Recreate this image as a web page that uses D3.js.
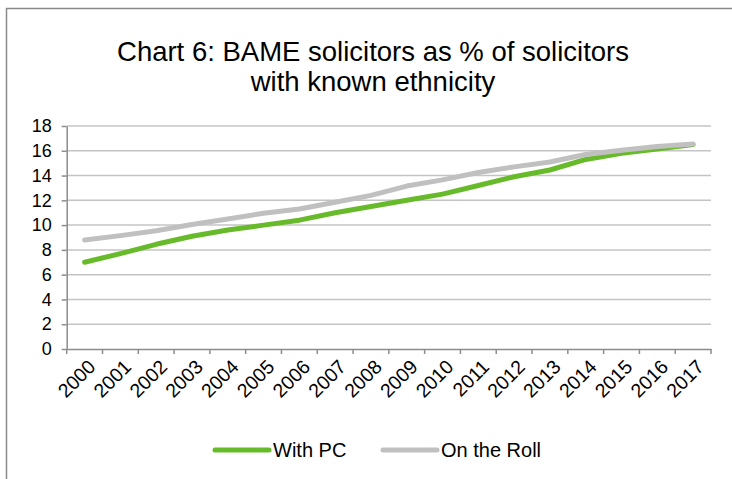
<!DOCTYPE html>
<html>
<head>
<meta charset="utf-8">
<script src="https://cdn.jsdelivr.net/npm/d3@7"></script>
<style>
  body { margin: 0; background: #fff; }
  svg { font-family: "Liberation Sans", Arial, sans-serif; }
  .grid line { stroke: #c4c4c4; stroke-width: 1.5; }
  .axis path, .axis line { stroke: #8c8c8c; stroke-width: 1.5; }
  .axis text { fill: #000; }
</style>
</head>
<body>
<script>
// data
var years = ["2000","2001","2002","2003","2004","2005","2006","2007","2008",
             "2009","2010","2011","2012","2013","2014","2015","2016","2017"]
var withPC = [7.0, 7.7, 8.45, 9.1, 9.6, 10.0, 10.4, 11.0, 11.5,
              12.0, 12.5, 13.2, 13.9, 14.45, 15.3, 15.8, 16.15, 16.5]
var onRoll = [8.8, 9.15, 9.55, 10.05, 10.5, 10.95, 11.3, 11.85, 12.4,
              13.15, 13.65, 14.25, 14.7, 15.1, 15.7, 16.05, 16.35, 16.55]
var yTicks = [0, 2, 4, 6, 8, 10, 12, 14, 16, 18]

var seriesNames = ["With PC", "On the Roll"]
var seriesColors = ["#67bb2a", "#c0c0c0"]

var W = 732, H = 479
var svg = d3.select("body").append("svg").attr("width", W).attr("height", H)

// chart frame
svg.append("rect")
    .attr("x", 6.5).attr("y", 8.5)
    .attr("width", 740).attr("height", 500)
    .attr("fill", "#fff")
    .attr("stroke", "#8a8a8a")
    .attr("stroke-width", 1.5)

// title
var title = svg.append("text")
    .attr("text-anchor", "middle")
    .style("font-size", "27.5px")
title.append("tspan").attr("x", 373).attr("y", 61).text("Chart 6: BAME solicitors as % of solicitors")
title.append("tspan").attr("x", 373).attr("y", 91).text("with known ethnicity")

var plotL = 66.7, plotR = 711, plotT = 126, plotB = 349

var xScale = d3.scaleBand().domain(years).range([plotL, plotR])
var yScale = d3.scaleLinear().domain([0, 18]).range([plotB, plotT])

// gridlines
svg.append("g")
    .attr("class", "grid")
  .selectAll("line")
  .data(yTicks.slice(1))
  .enter().append("line")
    .attr("x1", plotL).attr("x2", plotR)
    .attr("y1", function(d) { return yScale(d) })
    .attr("y2", function(d) { return yScale(d) })

// y axis
var yAxis = svg.append("g")
    .attr("class", "axis")
    .attr("transform", "translate(" + plotL + ",0)")
    .call(d3.axisLeft(yScale).tickValues(yTicks).tickSize(5).tickPadding(10).tickSizeOuter(0))
yAxis.selectAll(".tick text").style("font-size", "18px")

// x axis, ticks between categories
var xAxis = svg.append("g")
    .attr("class", "axis")
    .attr("transform", "translate(0," + plotB + ")")
    .call(d3.axisBottom(xScale).tickSize(0).tickSizeOuter(0))
xAxis.selectAll(".tick text")
    .style("font-size", "19.5px")
    .attr("text-anchor", "end")
    .attr("dx", 0).attr("dy", 0)
    .attr("transform", "translate(10,17) rotate(-45)")

var edges = years.map(function(y) { return xScale(y) }).concat([plotR])
xAxis.selectAll(".sep")
    .data(edges)
  .enter().append("line")
    .attr("class", "sep")
    .attr("x1", function(d) { return d }).attr("x2", function(d) { return d })
    .attr("y1", 0).attr("y2", 5)

// lines
var line = d3.line()
    .x(function(d, i) { return xScale(years[i]) + xScale.bandwidth() / 2 })
    .y(function(d) { return yScale(d) })

var allSeries = [withPC, onRoll]
allSeries.forEach(function(s, i) {
  svg.append("path")
      .datum(s)
      .attr("d", line)
      .attr("fill", "none")
      .attr("stroke", seriesColors[i])
      .attr("stroke-width", 5)
      .attr("stroke-linecap", "round")
      .attr("stroke-linejoin", "round")
})

// legend
var legendX = [215, 383]
seriesNames.forEach(function(name, i) {
  var g = svg.append("g").attr("transform", "translate(" + legendX[i] + ",450)")
  g.append("line")
      .attr("x1", 0).attr("x2", 54)
      .attr("stroke", seriesColors[i])
      .attr("stroke-width", 5)
      .attr("stroke-linecap", "round")
  g.append("text")
      .attr("x", 58).attr("y", 7)
      .style("font-size", "20px")
      .text(name)
})
</script>
</body>
</html>
